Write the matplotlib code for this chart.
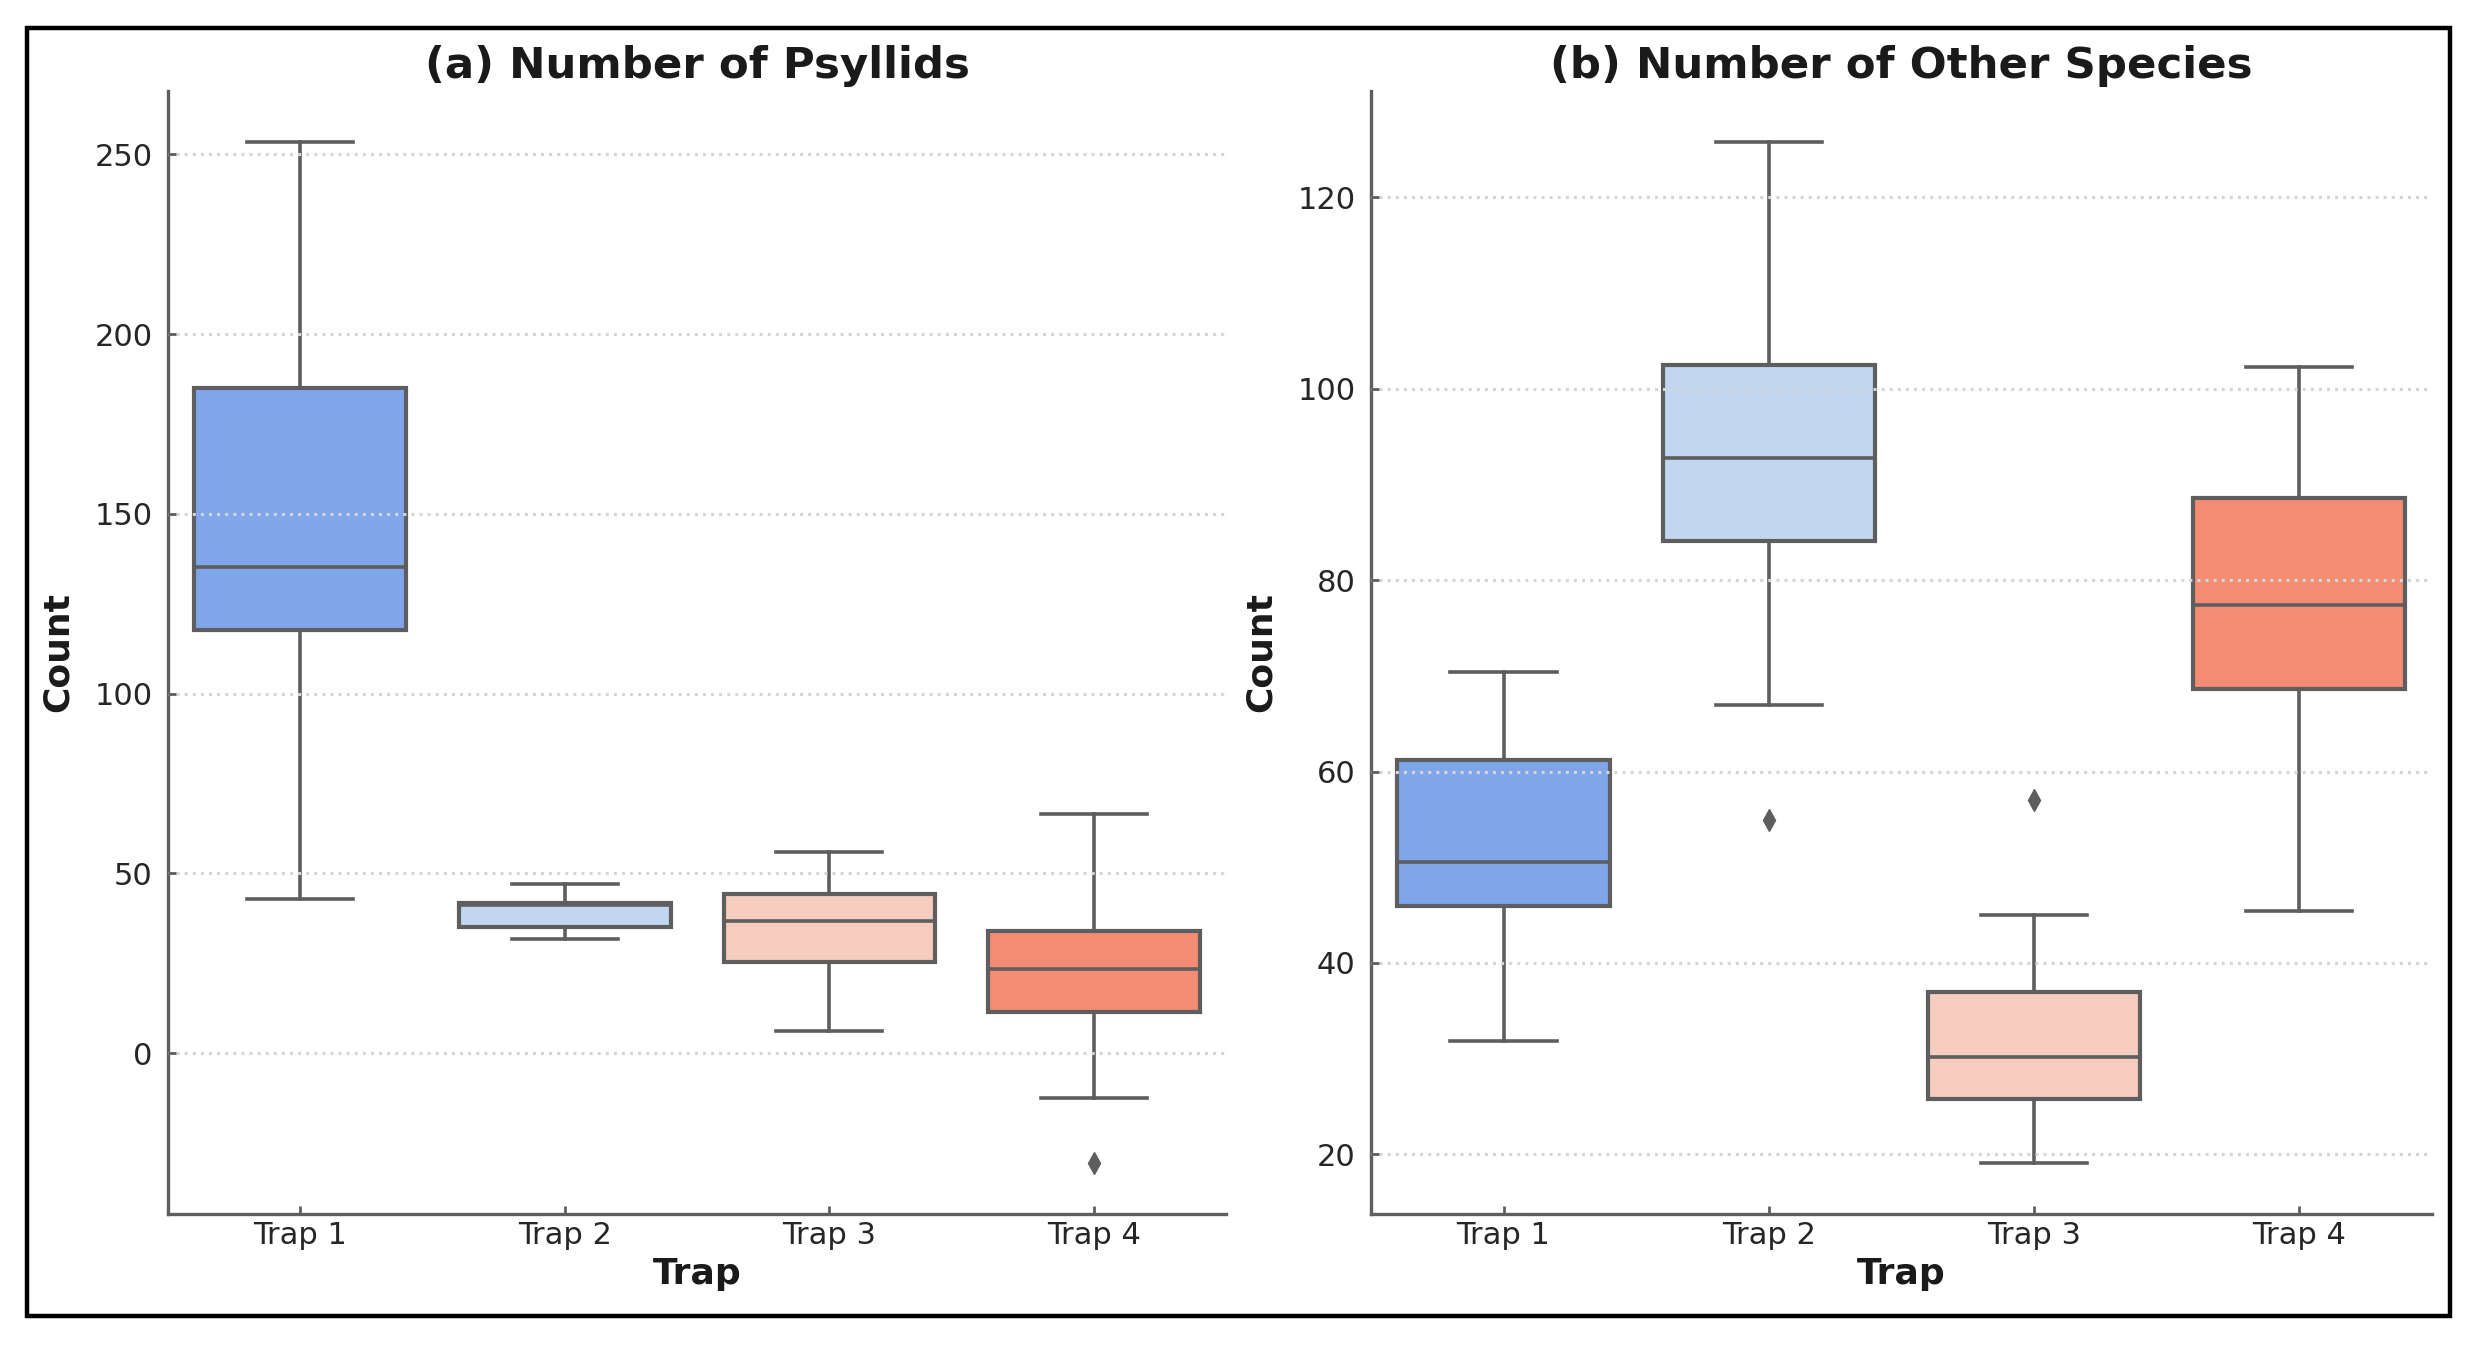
import matplotlib.pyplot as plt
from matplotlib.patches import Rectangle

# Box statistics
traps = ['Trap 1', 'Trap 2', 'Trap 3', 'Trap 4']

psyllid_whislo = [42.8, 31.9, 6.2, -12.5]
psyllid_q1 = [117.7, 35.0, 25.3, 11.6]
psyllid_med = [135.2, 41.2, 36.9, 23.3]
psyllid_q3 = [185.1, 41.8, 44.4, 33.9]
psyllid_whishi = [253.4, 47.2, 55.9, 66.6]
psyllid_fliers = [[], [], [], [-30.5]]

other_whislo = [31.8, 67.0, 19.1, 45.4]
other_q1 = [46.0, 84.1, 25.8, 68.6]
other_med = [50.5, 92.8, 30.2, 77.4]
other_q3 = [61.2, 102.5, 37.0, 88.6]
other_whishi = [70.4, 125.8, 45.0, 102.3]
other_fliers = [[], [54.9], [57.0], []]

colors = ['#7fa6eb', '#c3d6f0', '#f5ccbd', '#f38c73']
edge = '#5e5e5e'


def make_stats(lo, q1, med, q3, hi, fliers):
    stats = []
    for i in range(len(traps)):
        stats.append({'label': traps[i], 'whislo': lo[i], 'q1': q1[i], 'med': med[i],
                      'q3': q3[i], 'whishi': hi[i], 'fliers': fliers[i]})
    return stats


def draw_panel(ax, stats, title):
    line = dict(color=edge, linewidth=2.6)
    bp = ax.bxp(stats, positions=range(len(traps)), widths=0.8, capwidths=0.4,
                patch_artist=True, boxprops=dict(edgecolor=edge, linewidth=3.0),
                whiskerprops=line, capprops=line, medianprops=line,
                flierprops=dict(marker='d', markerfacecolor=edge, markeredgecolor=edge,
                                markersize=11, linestyle='none'))
    for patch, c in zip(bp['boxes'], colors):
        patch.set_facecolor(c)

    ax.set_xlim(-0.5, len(traps) - 0.5)
    ax.set_title(title, fontsize=31.3, fontweight='bold', color='#1a1a1a', pad=9)
    ax.set_xlabel('Trap', fontsize=26, fontweight='bold', color='#1a1a1a', labelpad=5)
    ax.set_ylabel('Count', fontsize=26, fontweight='bold', color='#1a1a1a', labelpad=14)

    ax.set_axisbelow(False)
    ax.yaxis.grid(True, linestyle=':', linewidth=2.2, color='#d6d6d6')
    ax.xaxis.grid(False)
    for side in ['top', 'right']:
        ax.spines[side].set_visible(False)
    for side in ['left', 'bottom']:
        ax.spines[side].set_color('#5e5e5e')
        ax.spines[side].set_linewidth(2.4)
    ax.tick_params(axis='both', direction='in', length=6, width=2, color='#5e5e5e',
                   labelsize=22, labelcolor='#262626')
    ax.tick_params(axis='y', pad=11)
    ax.tick_params(axis='x', pad=5)


fig = plt.figure(figsize=(24.71, 13.45), dpi=100)
ax1 = fig.add_axes([0.0680, 0.0974, 0.4282, 0.8350])
ax2 = fig.add_axes([0.5548, 0.0974, 0.4294, 0.8350])

draw_panel(ax1, make_stats(psyllid_whislo, psyllid_q1, psyllid_med, psyllid_q3,
                           psyllid_whishi, psyllid_fliers), '(a) Number of Psyllids')
draw_panel(ax2, make_stats(other_whislo, other_q1, other_med, other_q3,
                           other_whishi, other_fliers), '(b) Number of Other Species')

# Black frame around the whole figure
fig.patches.append(Rectangle((0.0109, 0.0216), 0.9806, 0.9576, transform=fig.transFigure,
                             fill=False, edgecolor='black', linewidth=3.2))

fig.savefig('out.png', dpi=100, facecolor='white')
